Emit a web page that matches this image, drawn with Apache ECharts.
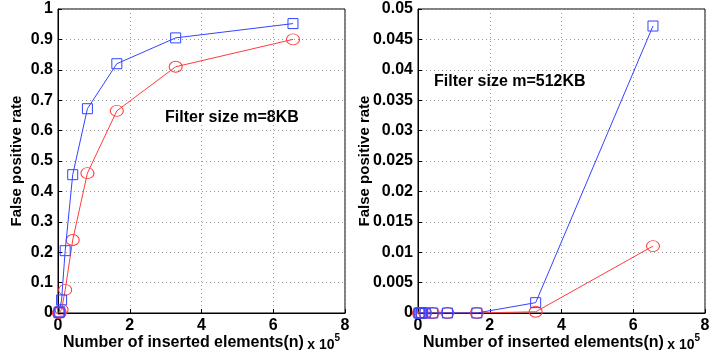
<!DOCTYPE html>
<html>
<head>
<meta charset="utf-8">
<script src="https://cdn.jsdelivr.net/npm/echarts@6/dist/echarts.min.js"></script>
<style>
  html, body { margin: 0; padding: 0; background: #fff; }
  #chart { width: 723px; height: 358px; }
</style>
</head>
<body>
<div id="chart"></div>
<script>
// inserted elements, in units of 10^5
const insertedN = [0.025, 0.05, 0.1, 0.2, 0.41, 0.82, 1.64, 3.28, 6.55];

// filter size m = 8KB
const fpBlue8KB = [0.001, 0.004, 0.043, 0.205, 0.455, 0.672, 0.82, 0.905, 0.952];
const fpRed8KB = [0, 0.002, 0.011, 0.076, 0.24, 0.46, 0.665, 0.81, 0.90];

// filter size m = 512KB
const fpBlue512KB = [0, 0, 0, 0, 0, 0, 0, 0.0017, 0.0472];
const fpRed512KB = [0, 0, 0, 0, 0, 0, 0, 0.0002, 0.011];

const xTicks = [0, 2, 4, 6, 8];
const leftYTicks = [0, 0.1, 0.2, 0.3, 0.4, 0.5, 0.6, 0.7, 0.8, 0.9, 1];
const rightYTicks = [0, 0.005, 0.01, 0.015, 0.02, 0.025, 0.03, 0.035, 0.04, 0.045, 0.05];

const font = 'Liberation Sans, Arial, sans-serif';
const blue = '#3344ff';
const red = '#ff3b3b';

const pairs = (xs, ys) => xs.map((x, i) => [x, ys[i]]);

const chart = echarts.init(document.getElementById('chart'));

const xAxisBase = (gridIndex) => ({
  type: 'value',
  gridIndex,
  min: xTicks[0],
  max: xTicks[xTicks.length - 1],
  interval: xTicks[1] - xTicks[0],
  name: '{a|Number of inserted elements(n)} {b|x 10}{c|5}',
  nameLocation: 'middle',
  nameGap: 20,
  nameMoveOverlap: false,
  nameTextStyle: {
    verticalAlign: 'top',
    rich: {
      a: { fontFamily: font, fontWeight: 'bold', fontSize: 16, color: '#000' },
      b: { fontFamily: font, fontWeight: 'bold', fontSize: 14, color: '#000', padding: [4, 0, 0, 0] },
      c: { fontFamily: font, fontWeight: 'bold', fontSize: 10, color: '#000', padding: [0, 0, 10, 0] },
    },
  },
  axisLine: { show: true, onZero: false, lineStyle: { color: '#000', width: 1 } },
  axisTick: { show: true, inside: true, length: 4, lineStyle: { color: '#000' } },
  axisLabel: { color: '#000', fontFamily: font, fontWeight: 'bold', fontSize: 16, margin: 5 },
  splitLine: { show: true, lineStyle: { color: '#999', type: [1, 3] } },
});

const yAxisBase = (gridIndex, ticks, nameGap) => ({
  type: 'value',
  gridIndex,
  min: ticks[0],
  max: ticks[ticks.length - 1],
  interval: ticks[1] - ticks[0],
  name: 'False positive rate',
  nameLocation: 'middle',
  nameRotate: 90,
  nameGap,
  nameMoveOverlap: false,
  nameTextStyle: { fontFamily: font, fontWeight: 'bold', fontSize: 15, color: '#000' },
  axisLine: { show: true, onZero: false, lineStyle: { color: '#000', width: 1 } },
  axisTick: { show: true, inside: true, length: 4, lineStyle: { color: '#000' } },
  axisLabel: {
    color: '#000', fontFamily: font, fontWeight: 'bold', fontSize: 16, margin: 5,
    formatter: (v) => String(+v.toFixed(4)),
  },
  splitLine: { show: true, lineStyle: { color: '#999', type: [1, 3] } },
});

const lineSeries = (name, xIdx, data, color, symbol) => ({
  name,
  type: 'line',
  xAxisIndex: xIdx,
  yAxisIndex: xIdx,
  data,
  symbol,
  symbolSize: symbol === 'rect' ? 10 : [13, 11],
  showAllSymbol: true,
  lineStyle: { color, width: 1 },
  itemStyle: { color: 'transparent', borderColor: color, borderWidth: 1 },
  emphasis: { disabled: true },
  z: symbol === 'rect' ? 3 : 2,
});

const option = {
  backgroundColor: '#fff',
  animation: false,
  grid: [
    { left: 58, top: 9, width: 287, height: 304, outerBoundsMode: 'none', show: true, borderColor: '#000', borderWidth: 1, backgroundColor: 'transparent' },
    { left: 418, top: 9, width: 287, height: 304, outerBoundsMode: 'none', show: true, borderColor: '#000', borderWidth: 1, backgroundColor: 'transparent' },
  ],
  xAxis: [xAxisBase(0), xAxisBase(1)],
  yAxis: [yAxisBase(0, leftYTicks, 34), yAxisBase(1, rightYTicks, 46)],
  graphic: [
    {
      type: 'text', left: 165, top: 110,
      style: { text: 'Filter size m=8KB', fontFamily: font, fontWeight: 'bold', fontSize: 16, fill: '#000' },
    },
    {
      type: 'text', left: 434, top: 74,
      style: { text: 'Filter size m=512KB', fontFamily: font, fontWeight: 'bold', fontSize: 16, fill: '#000' },
    },
  ],
  series: [
    lineSeries('blue8', 0, pairs(insertedN, fpBlue8KB), blue, 'rect'),
    lineSeries('red8', 0, pairs(insertedN, fpRed8KB), red, 'circle'),
    lineSeries('blue512', 1, pairs(insertedN, fpBlue512KB), blue, 'rect'),
    lineSeries('red512', 1, pairs(insertedN, fpRed512KB), red, 'circle'),
  ],
};

chart.setOption(option);
</script>
</body>
</html>
